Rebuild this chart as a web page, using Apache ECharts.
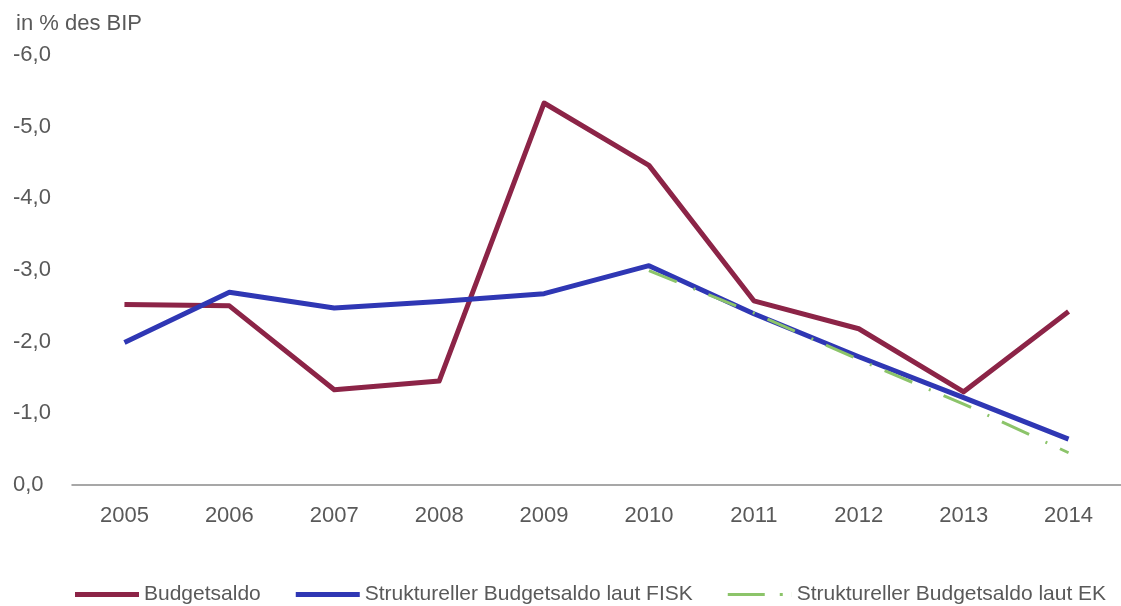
<!DOCTYPE html>
<html>
<head>
<meta charset="utf-8">
<script src="https://cdn.jsdelivr.net/npm/echarts@6/dist/echarts.min.js"></script>
<style>
  html, body { margin: 0; padding: 0; background: #fff; }
  #chart { width: 1121px; height: 606px; }
</style>
</head>
<body>
<div id="chart"></div>
<script>
// Jahre (Kategorien)
const years = ['2005', '2006', '2007', '2008', '2009', '2010', '2011', '2012', '2013', '2014']

// Werte in % des BIP
const budgetsaldo = [-2.52, -2.50, -1.33, -1.45, -5.33, -4.46, -2.57, -2.18, -1.30, -2.42]
const strukturFisk = [-1.99, -2.69, -2.47, -2.56, -2.67, -3.06, -2.39, -1.79, -1.22, -0.64]
const strukturEk = [null, null, null, null, null, -2.99, -2.40, -1.75, -1.13, -0.45]

const textColor = '#595959'
const font = '"Liberation Sans", Arial, sans-serif'

// Legendensymbole: Linie bzw. Strich-Punkt
const iconSolid = 'path://M0,0 L64,0 L64,5 L0,5 Z'
const iconDashDot = 'path://M0,1 L37,1 L37,4 L0,4 Z M52,1 L55,1 L55,4 L52,4 Z M63.9,0 L64,0 L64,5 L63.9,5 Z'

const chart = echarts.init(document.getElementById('chart'))

chart.setOption({
  animation: false,
  textStyle: { fontFamily: font },
  title: {
    text: 'in % des BIP',
    left: 11,
    top: 8,
    textStyle: { fontSize: 22, fontWeight: 'normal', color: textColor, fontFamily: font },
  },
  grid: { left: 72, right: 0, top: 55, bottom: 121 },
  legend: {
    left: 70,
    top: 579,
    itemWidth: 64,
    itemHeight: 5,
    itemGap: 35,
    textStyle: { fontSize: 21, color: textColor, fontFamily: font },
    data: [
      { name: 'Budgetsaldo', icon: iconSolid },
      { name: 'Struktureller Budgetsaldo laut FISK', icon: iconSolid },
      { name: 'Struktureller Budgetsaldo laut EK', icon: iconDashDot },
    ],
  },
  xAxis: {
    type: 'category',
    data: years,
    boundaryGap: true,
    axisLine: { lineStyle: { color: '#8a8a8a', width: 1.5 } },
    axisTick: { show: false },
    axisLabel: { color: textColor, fontSize: 22, margin: 20 },
  },
  yAxis: {
    type: 'value',
    min: -6,
    max: 0,
    interval: 1,
    inverse: true,
    splitLine: { show: false },
    axisLine: { show: false },
    axisTick: { show: false },
    axisLabel: {
      color: textColor,
      fontSize: 22,
      align: 'left',
      margin: 59,
      formatter: (v) => v.toFixed(1).replace('.', ','),
    },
  },
  series: [
    {
      name: 'Budgetsaldo',
      type: 'line',
      data: budgetsaldo,
      showSymbol: false,
      symbol: 'none',
      z: 3,
      itemStyle: { color: '#8c2447' },
      lineStyle: { color: '#8c2447', width: 5, join: 'round' },
    },
    {
      name: 'Struktureller Budgetsaldo laut FISK',
      type: 'line',
      data: strukturFisk,
      showSymbol: false,
      symbol: 'none',
      z: 4,
      itemStyle: { color: '#2f37b4' },
      lineStyle: { color: '#2f37b4', width: 5, join: 'round' },
    },
    {
      name: 'Struktureller Budgetsaldo laut EK',
      type: 'line',
      data: strukturEk,
      showSymbol: false,
      symbol: 'none',
      z: 5,
      itemStyle: { color: '#8cc46a' },
      lineStyle: { color: '#8cc46a', width: 3, type: [30, 18, 2, 14] },
    },
  ],
})
</script>
</body>
</html>
